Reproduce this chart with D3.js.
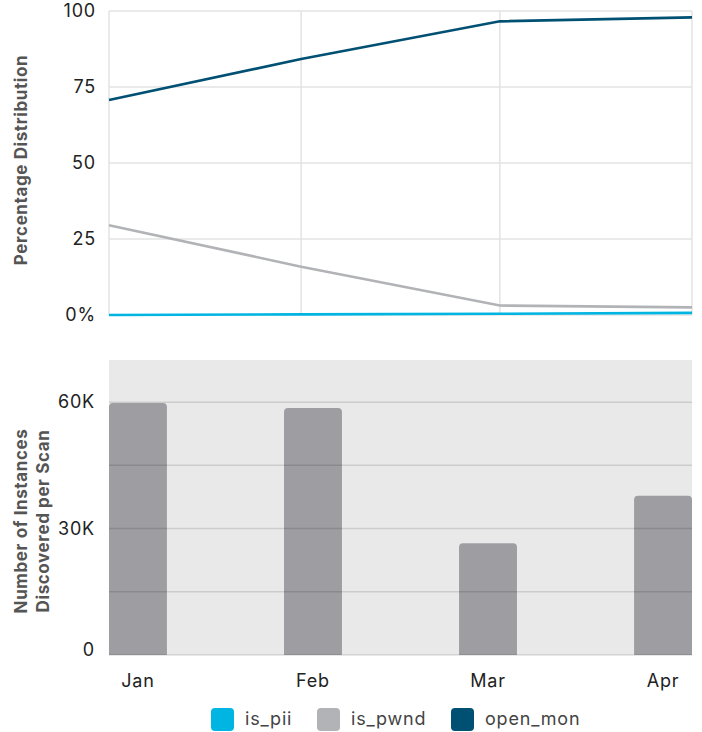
<!DOCTYPE html>
<html><head><meta charset="utf-8">
<script src="https://cdn.jsdelivr.net/npm/d3@7"></script>
<style>
body{margin:0;background:#fff}
text{font-family:Inter, "Liberation Sans", sans-serif}
</style>
</head><body>
<svg id="c" width="702" height="732"></svg>
<script>
// ---- data ----
const months = ["Jan", "Feb", "Mar", "Apr"];
const scanDates = ["2019-01-15", "2019-02-13", "2019-03-15", "2019-04-13"];
const isPii = [0, 0.2, 0.4, 0.7];
const isPwnd = [29.5, 15.9, 3.1, 2.5];
const openMon = [70.7, 84.2, 96.6, 97.9];
const instances = [59800, 58600, 26500, 37800];
const pctTicks = [0, 25, 50, 75, 100];
const pctTickLabels = ["0%", "25", "50", "75", "100"];
const countGridTicks = [0, 15000, 30000, 45000, 60000];
const countTicks = [0, 30000, 60000];
const countTickLabels = ["0", "30K", "60K"];
const seriesNames = ["is_pii", "is_pwnd", "open_mon"];
const seriesColors = ["#00b5e2", "#b1b3b6", "#005073"];

const svg = d3.select("#c");
const L = 109, R = 692;
const FS = 18, LS = "0.8px";

// ---- top chart ----
const parse = d3.timeParse("%Y-%m-%d");
const dates = scanDates.map(parse);
const xT = d3.scaleTime().domain(d3.extent(dates)).range([L, R]);
const yT = d3.scaleLinear().domain([0, 100]).range([315, 11]);

const gTop = svg.append("g");
gTop.append("g").selectAll("line").data(pctTicks).join("line")
  .attr("x1", L).attr("x2", R).attr("y1", d => yT(d)).attr("y2", d => yT(d))
  .attr("stroke", "#e3e3e3").attr("stroke-width", 1.5);
gTop.append("g").selectAll("line").data(dates).join("line")
  .attr("x1", d => xT(d)).attr("x2", d => xT(d)).attr("y1", yT(100)).attr("y2", yT(0))
  .attr("stroke", "#e3e3e3").attr("stroke-width", 1.5);

const yAxisT = d3.axisLeft(yT).tickValues(pctTicks)
  .tickFormat((d, i) => pctTickLabels[i]).tickSize(0).tickPadding(13);
gTop.append("g").attr("transform", `translate(${L},0)`).call(yAxisT)
  .call(g => g.select(".domain").remove())
  .call(g => g.selectAll("text").attr("font-size", FS).attr("fill", "#222")
     .attr("letter-spacing", LS).attr("font-family", "Inter, sans-serif"));

const seriesVals = [isPii, isPwnd, openMon];
const line = d3.line().x((d, i) => xT(dates[i])).y(d => yT(d));
[1, 2, 0].forEach(k => {
  gTop.append("path").datum(seriesVals[k]).attr("d", line)
    .attr("fill", "none").attr("stroke", seriesColors[k]).attr("stroke-width", 2.6);
});

gTop.append("text").attr("transform", "translate(27,160) rotate(-90)")
  .attr("text-anchor", "middle").attr("font-size", 17).attr("font-weight", 700)
  .attr("letter-spacing", "0.6px").attr("fill", "#555").text("Percentage Distribution");

// ---- bottom chart ----
const xB = d3.scaleBand().domain(months).range([L, R]).paddingInner(0.669).paddingOuter(0);
const yB = d3.scaleLinear().domain([0, 70000]).range([655, 360]);

const gBot = svg.append("g");
gBot.append("rect").attr("x", L).attr("y", yB(70000)).attr("width", R - L)
  .attr("height", yB(0) - yB(70000)).attr("fill", "#e9e9e9");

const r = 4;
gBot.append("g").selectAll("path").data(instances).join("path")
  .attr("d", (d, i) => {
    const x0 = xB(months[i]), w = xB.bandwidth(), y0 = yB(d), y1 = yB(0);
    return `M${x0},${y1}V${y0 + r}Q${x0},${y0} ${x0 + r},${y0}H${x0 + w - r}Q${x0 + w},${y0} ${x0 + w},${y0 + r}V${y1}Z`;
  })
  .attr("fill", "#9e9da2");

gBot.append("g").selectAll("line").data(countGridTicks).join("line")
  .attr("x1", L).attr("x2", R).attr("y1", d => yB(d)).attr("y2", d => yB(d))
  .attr("stroke", "rgba(0,0,0,0.12)").attr("stroke-width", 1.5);

const yAxisB = d3.axisLeft(yB).tickValues(countTicks)
  .tickFormat((d, i) => countTickLabels[i]).tickSize(0).tickPadding(14);
gBot.append("g").attr("transform", `translate(${L},0)`).call(yAxisB)
  .call(g => g.select(".domain").remove())
  .call(g => g.selectAll("text").attr("font-size", FS).attr("fill", "#222")
     .attr("letter-spacing", LS).attr("font-family", "Inter, sans-serif"))
  .call(g => g.selectAll(".tick").filter(d => d === 0).select("text").attr("dy", "0.0em"));

const xAxisB = d3.axisBottom(xB).tickSize(0).tickPadding(19);
gBot.append("g").attr("transform", `translate(0,${yB(0)})`).call(xAxisB)
  .call(g => g.select(".domain").remove())
  .call(g => g.selectAll("text").attr("font-size", FS).attr("fill", "#222")
     .attr("letter-spacing", LS).attr("font-family", "Inter, sans-serif"));

const bt = gBot.append("text").attr("transform", "translate(0,521) rotate(-90)")
  .attr("text-anchor", "middle").attr("font-size", 17).attr("font-weight", 700)
  .attr("letter-spacing", "0.6px").attr("fill", "#555");
bt.append("tspan").attr("x", 0).attr("y", 27).text("Number of Instances");
bt.append("tspan").attr("x", 0).attr("y", 49).text("Discovered per Scan");

// ---- legend ----
const legX = [211, 317, 451];
const leg = svg.append("g").selectAll("g").data(seriesNames).join("g")
  .attr("transform", (d, i) => `translate(${legX[i]},708)`);
leg.append("rect").attr("width", 23).attr("height", 23).attr("rx", 4)
  .attr("fill", (d, i) => seriesColors[i]);
leg.append("text").attr("x", 34).attr("y", 17).attr("font-size", FS)
  .attr("letter-spacing", LS).attr("fill", "#444").text(d => d);
</script>
</body></html>
